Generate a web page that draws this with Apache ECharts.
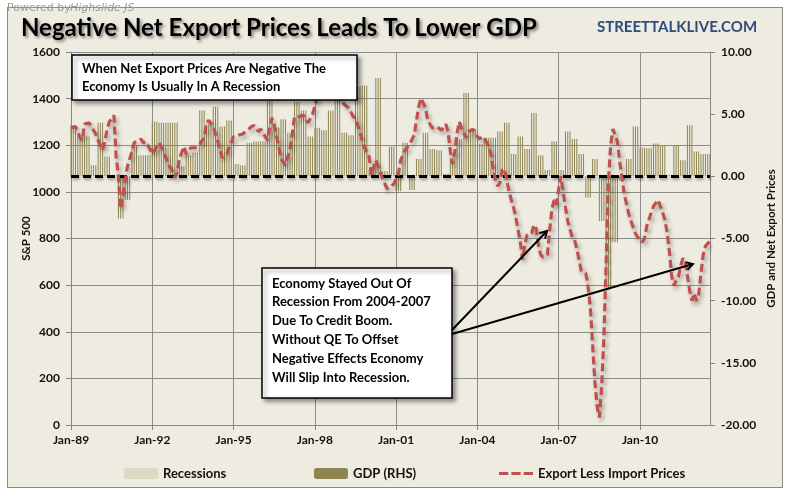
<!DOCTYPE html>
<html><head><meta charset="utf-8">
<script src="https://cdn.jsdelivr.net/npm/echarts@6/dist/echarts.min.js"></script>
<style>
html,body{margin:0;padding:0;background:#fff;}
#wrap{position:relative;width:788px;height:493px;overflow:hidden;}
#bg{position:absolute;left:7px;top:7px;width:774px;height:479px;background:#EEECE1;border:1px solid #8a8a8a;}
#c{position:absolute;left:0;top:0;width:788px;height:493px;}
</style>
</head><body><div id="wrap"><div id="bg"></div><div id="c"></div></div>
<script>
// ---- data ----
const startYear = 1989;
const monthCount = 284; // Jan-89 .. Aug-12
const monthNames = ['Jan','Feb','Mar','Apr','May','Jun','Jul','Aug','Sep','Oct','Nov','Dec'];
// Real GDP growth, quarterly (1989Q1 .. 2012Q3), shown as monthly bars
const gdpQuarterly = [
  4.1, 3.2, 3.2, 0.9,   4.3, 1.6, 0.0, -3.4,   -1.9, 2.5, 1.7, 1.7,
  4.4, 4.3, 4.3, 4.3,   0.8, 1.7, 1.9, 5.3,    4.2, 5.6, 4.0, 4.5,
  1.0, 0.9, 2.7, 2.8,   2.8, 6.1, 3.9, 4.6,    3.5, 6.0, 5.3, 3.2,
  3.9, 3.7, 5.3, 6.8,   3.5, 3.3, 7.2, 7.3,    0.5, 7.9, 0.4, 2.4,
  -1.2, 2.7, -1.1, 1.4, 3.5, 2.2, 2.1, 0.2,    1.5, 3.0, 6.7, 3.8,
  2.6, 3.1, 3.1, 3.6,   4.3, 1.8, 3.2, 2.2,    5.1, 1.7, 0.5, 2.8,
  0.5, 3.6, 3.0, 1.8,   -1.7, 1.4, -3.6, -8.9, -5.3, -0.3, 1.4, 4.0,
  2.3, 2.25, 2.65, 2.45, 0.1, 2.5, 1.3, 4.1,   2.0, 1.8, 1.8
];
// Export less import prices: [months since Jan-89, value]
const exportLessImport = [
  [0,3.9],[2,4.0],[4,3.1],[5,2.9],[6,4.2],[8,4.3],[9,4.0],[11,3.4],[12,2.9],[14,2.1],
  [15,2.8],[16,3.8],[17,4.4],[19,4.9],[20,1.6],[21,0.0],[22,-2.6],[23,-1.6],[24,-0.3],[25,0.8],
  [27,2.0],[28,2.7],[31,3.0],[32,2.7],[33,2.8],[35,2.2],[36,1.8],[38,2.4],[39,2.7],[41,2.0],
  [43,1.0],[45,0.4],[46,-0.1],[47,0.3],[48,1.4],[50,2.4],[51,1.8],[53,2.3],[55,2.3],[57,2.6],
  [59,3.1],[60,4.3],[61,4.5],[63,4.0],[65,2.8],[67,1.5],[69,1.8],[70,2.3],[72,3.2],[74,3.3],
  [76,3.4],[78,3.7],[80,4.0],[81,4.1],[83,3.6],[84,3.8],[85,3.5],[87,2.9],[89,4.7],[90,4.1],
  [92,2.4],[93,1.4],[95,0.9],[97,2.2],[98,3.4],[99,4.8],[101,4.8],[103,4.9],[105,4.3],[107,5.0],
  [109,6.3],[111,7.4],[113,8.0],[115,7.6],[117,6.6],[119,6.3],[121,5.8],[123,5.5],[125,4.8],[126,4.7],
  [128,3.5],[129,2.9],[130,2.3],[132,1.6],[133,0.1],[135,1.3],[136,0.8],[138,-0.2],[140,-1.0],[141,-0.9],
  [143,-0.6],[145,0.2],[146,1.3],[148,2.1],[150,2.6],[152,3.3],[153,4.5],[154,5.6],[155,6.3],[157,5.5],
  [158,4.5],[160,3.9],[162,4.0],[164,3.7],[166,4.2],[167,3.6],[168,2.0],[169,1.0],[170,2.0],[171,3.5],
  [172,4.4],[173,3.8],[175,3.1],[176,3.6],[178,3.8],[179,3.4],[181,3.0],[182,3.2],[183,3.1],[185,2.4],
  [186,1.8],[187,0.6],[188,-0.3],[189,-0.8],[190,-0.5],[191,0.5],[192,0.6],[193,-0.3],[194,-1.2],[195,-1.9],
  [196,-2.5],[197,-3.3],[198,-4.3],[199,-5.3],[200,-6.7],[201,-5.5],[202,-4.7],[204,-4.6],[205,-3.9],[206,-4.2],
  [207,-5.5],[208,-6.3],[209,-6.5],[210,-6.4],[211,-6.3],[212,-4.3],[213,-2.6],[214,-1.9],[215,-2.3],[216,-1.0],
  [217,0.0],[218,-1.3],[219,-2.5],[220,-3.6],[222,-4.9],[223,-5.1],[224,-5.8],[226,-7.6],[228,-7.8],[229,-8.9],
  [230,-10.5],[231,-13.5],[232,-16.5],[233,-18.5],[234,-19.4],[235,-17.0],[236,-13.0],[237,-7.0],[238,-0.5],[239,2.5],
  [240,3.8],[242,2.8],[243,1.2],[244,-0.1],[245,-1.4],[247,-3.0],[248,-3.6],[250,-4.6],[251,-4.9],[253,-5.3],
  [254,-5.0],[255,-4.0],[257,-2.9],[258,-2.4],[260,-1.9],[261,-2.4],[262,-2.9],[263,-3.5],[264,-4.5],[265,-6.0],
  [266,-8.0],[267,-8.8],[268,-8.4],[269,-8.1],[270,-7.2],[271,-6.6],[272,-6.8],[273,-8.0],[274,-9.2],[275,-10.0],
  [276,-9.4],[277,-10.0],[278,-9.5],[279,-7.8],[280,-6.3],[281,-5.6],[283,-5.2]
];
// Recessions: [start month, end month] since Jan-89
const recessions = [[18,26],[146,154],[227,245]];
const leftAxis = {min:0, max:1600, interval:200};
const rightAxis = {min:-20, max:10, interval:5};

// ---- build ----
const categories = [];
for (let i = 0; i < monthCount; i++) {
  const y = startYear + Math.floor(i / 12);
  categories.push(monthNames[i % 12] + '-' + String(y % 100).padStart(2, '0'));
}
const gdpMonthly = categories.map((c, i) => gdpQuarterly[Math.floor(i / 3)]);

const FONT = 'Lato';
const axisColor = '#868686';
const gridColor = '#8C8C8C';
const labelStyle = {color:'#111', fontFamily:FONT, fontWeight:'bold', fontSize:12};
const legendText = {fontFamily:FONT, fontWeight:'bold', fontSize:13, color:'#111'};

const chart = echarts.init(document.getElementById('c'), null, {renderer:'canvas'});
chart.setOption({
  backgroundColor:'transparent',
  animation:false,
  title:[
    {text:'Negative Net Export Prices Leads To Lower GDP', left:16, top:11,
     textStyle:{fontFamily:FONT, fontWeight:'bold', fontSize:24, color:'#000',
       textShadowColor:'rgba(0,0,0,0.45)', textShadowBlur:3, textShadowOffsetX:2, textShadowOffsetY:2}},
    {text:'STREETTALKLIVE.COM', left:592, top:15,
     textStyle:{fontFamily:FONT, fontWeight:'bold', fontSize:15, color:'#2E4C7C'}}
  ],
  grid:{left:71, right:78, top:52, bottom:68, containLabel:false, outerBoundsMode:'none'},
  legend:[
    {data:['Recessions'], left:119, top:462, itemWidth:34, itemHeight:11, textStyle:legendText},
    {data:['GDP (RHS)'], left:309, top:462, itemWidth:34, itemHeight:11, textStyle:legendText},
    {data:[{name:'Export Less Import Prices',
            icon:'path://M0,0 L9,0 L9,3 L0,3 Z M12,0 L21,0 L21,3 L12,3 Z M24,0 L33,0 L33,3 L24,3 Z'}],
     left:494, top:462, itemWidth:34, itemHeight:4, textStyle:legendText}
  ],
  xAxis:{
    type:'category', data:categories, boundaryGap:false,
    axisLine:{show:true, lineStyle:{color:axisColor, width:1}},
    axisTick:{show:true, interval:35, length:5, inside:false, lineStyle:{color:axisColor}},
    axisLabel:Object.assign({interval:35, margin:9}, labelStyle),
    splitLine:{show:true, interval:35, lineStyle:{color:gridColor, width:1}}
  },
  yAxis:[
    {type:'value', position:'left', min:leftAxis.min, max:leftAxis.max, interval:leftAxis.interval,
     name:'S&P 500', nameLocation:'middle', nameGap:39, nameRotate:90, nameMoveOverlap:false,
     nameTextStyle:{fontFamily:FONT, fontWeight:'bold', fontSize:11.5, color:'#111'},
     axisLine:{show:true, lineStyle:{color:axisColor}},
     axisTick:{show:true, length:5, inside:false, lineStyle:{color:axisColor}},
     axisLabel:Object.assign({margin:11, formatter:v => String(v)}, labelStyle),
     splitLine:{show:true, lineStyle:{color:gridColor, width:1}}},
    {type:'value', position:'right', min:rightAxis.min, max:rightAxis.max, interval:rightAxis.interval,
     name:'GDP and Net Export Prices', nameLocation:'middle', nameGap:55, nameRotate:90, nameMoveOverlap:false,
     nameTextStyle:{fontFamily:FONT, fontWeight:'bold', fontSize:11.5, color:'#111'},
     axisLine:{show:true, lineStyle:{color:axisColor}},
     axisTick:{show:true, length:5, inside:false, lineStyle:{color:axisColor}},
     axisLabel:Object.assign({margin:11, formatter:v => v.toFixed(2)}, labelStyle),
     splitLine:{show:false}}
  ],
  series:[
    {name:'Recessions', type:'bar', yAxisIndex:0, data:[], barWidth:1, barGap:'-100%',
     itemStyle:{color:'#DDD9C3'}, z:1,
     markArea:{silent:true, itemStyle:{color:'#DDD9C3'},
       data:recessions.map(r => [{xAxis:categories[r[0]]},{xAxis:categories[r[1]]}])}},
    {name:'GDP (RHS)', type:'bar', yAxisIndex:1, data:gdpMonthly, barWidth:1, barGap:'-100%',
     itemStyle:{color:'#8E8450'}, z:2,
     markLine:{silent:true, symbol:'none', label:{show:false},
       lineStyle:{color:'#000', width:3, type:[8,4], shadowColor:'rgba(0,0,0,0.35)', shadowBlur:3, shadowOffsetX:1, shadowOffsetY:2},
       data:[{yAxis:0}]}},
    {name:'Export Less Import Prices', type:'line', yAxisIndex:1, data:exportLessImport,
     symbol:'none', showSymbol:false, z:5, smooth:false,
     itemStyle:{color:'#C0504D'},
     lineStyle:{color:'#C0504D', width:3.2, type:[8,4], shadowColor:'rgba(0,0,0,0.35)', shadowBlur:4, shadowOffsetX:2, shadowOffsetY:3}}
  ],
  graphic:[
    {type:'text', left:7, top:3, z:100, style:{text:'Powered by ', font:'11px "DejaVu Sans"', fill:'#9a9a9a'}},
    {type:'text', left:70, top:3, z:100, style:{text:'Highslide JS', font:'italic 11px "DejaVu Sans"', fill:'#9a9a9a'}},
    {type:'rect', z:100, shape:{x:72, y:55, width:285, height:45},
     style:{fill:'#fff', stroke:'#000', lineWidth:1.5, shadowBlur:4, shadowOffsetX:3, shadowOffsetY:3, shadowColor:'rgba(0,0,0,0.4)'}},
    {type:'text', z:101, style:{x:82, y:60, text:'When Net Export Prices Are Negative The\nEconomy Is Usually In A Recession',
      font:'bold 13px Lato', fill:'#000', lineHeight:18, verticalAlign:'top'}},
    {type:'rect', z:100, shape:{x:262, y:268, width:190, height:130},
     style:{fill:'#fff', stroke:'#000', lineWidth:1.5, shadowBlur:4, shadowOffsetX:3, shadowOffsetY:3, shadowColor:'rgba(0,0,0,0.4)'}},
    {type:'text', z:101, style:{x:272, y:274, text:'Economy Stayed Out Of\nRecession From 2004-2007\nDue To Credit Boom.\nWithout QE To Offset\nNegative Effects Economy\nWill Slip Into Recession.',
      font:'bold 13px Lato', fill:'#000', lineHeight:18.8, verticalAlign:'top'}},
    {type:'polyline', z:102, shape:{points:[[452,330],[547,231]]}, style:{stroke:'#000', lineWidth:2, fill:null}},
    {type:'polyline', z:102, shape:{points:[[539.3,233.2],[547,231],[545.1,238.8]]}, style:{stroke:'#000', lineWidth:2, fill:null}},
    {type:'polyline', z:102, shape:{points:[[452,334],[693,264]]}, style:{stroke:'#000', lineWidth:2, fill:null}},
    {type:'polyline', z:102, shape:{points:[[685.2,262.1],[693,264],[687.5,269.8]]}, style:{stroke:'#000', lineWidth:2, fill:null}}
  ]
});
</script>
</body></html>
